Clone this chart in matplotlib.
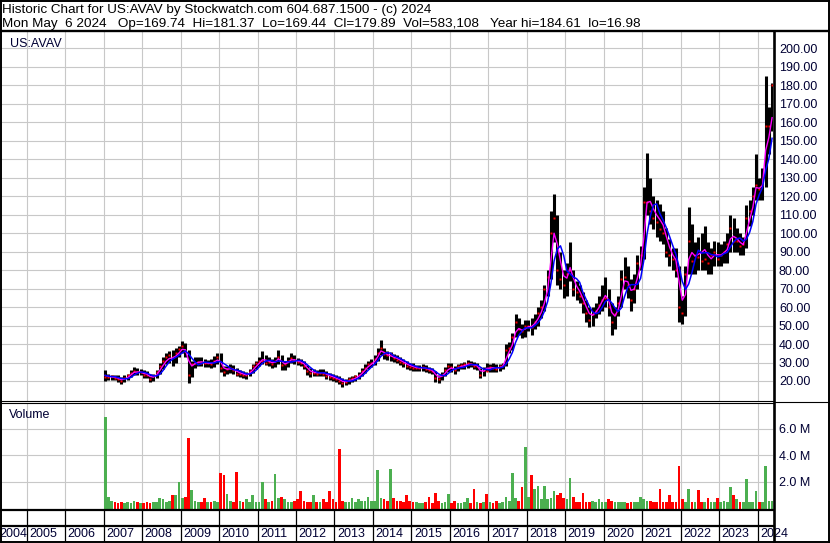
import matplotlib
matplotlib.use("Agg")
import matplotlib.pyplot as plt
import numpy as np
import pandas as pd

plt.rcParams['font.family'] = ['Liberation Sans', 'DejaVu Sans']

# monthly bars, Jan 2007 .. May 2024
months = pd.date_range("2007-01-01", "2024-05-01", freq="MS")

high = [
    26, 24, 23.5, 23.5, 23, 22, 23, 24, 26, 27.5, 27, 26.5,          # 2007
    26, 25.5, 24, 24, 26, 30, 33, 35, 36, 37, 38, 39,                # 2008
    41.5, 40.5, 37, 31, 33, 33, 33, 32, 31.5, 32, 33.5, 35,          # 2009
    35, 28, 28, 29, 28.5, 27, 26, 25.5, 25, 26.5, 29, 31,            # 2010
    33, 36, 34, 33, 32, 33, 37, 34, 31, 33, 35, 34,                  # 2011
    32.5, 32, 31, 28.5, 27, 26.5, 26, 26.5, 26.5, 25.5, 24.5, 24,    # 2012
    23, 22.5, 21.5, 21, 22, 22.5, 23.5, 25, 27, 29, 31, 32,          # 2013
    34, 38, 42, 38, 36, 35.5, 34.5, 34, 33, 32, 31, 30,              # 2014
    29.5, 28.5, 28.5, 29, 28.5, 27.5, 27, 25.5, 23.5, 25, 27.5, 29.5,  # 2015
    30, 28, 29, 30, 30.5, 31.5, 31, 30.5, 30, 27, 27.5, 30,          # 2016
    29, 29.5, 29, 29, 30, 40, 41, 46, 56, 54, 51, 53,                # 2017
    53, 54, 56, 60, 64, 72, 80, 112, 121, 110, 90, 80,               # 2018
    84, 95, 80, 74, 72, 68, 64, 60, 60, 62, 66, 72,                  # 2019
    76, 70, 62, 60, 66, 80, 87, 82, 75, 78, 88, 93,                  # 2020
    125, 143.5, 130, 120, 118, 116, 112, 103, 97, 92, 92, 82,        # 2021
    66, 82, 114, 105, 95, 98, 100, 104, 95, 92, 96, 95,              # 2022
    94, 96, 100, 110, 108, 103, 100, 98, 115, 118, 125, 143,         # 2023
    130, 135, 185, 168, 181.4,                                       # 2024
]
low = [
    20, 20.5, 20.5, 20.5, 19.5, 18.5, 19.5, 20.5, 22, 23.5, 23, 23,
    21.5, 21.5, 19.5, 20, 21.5, 24, 26.5, 29, 30, 28, 30, 33,
    35, 33, 19, 22, 27, 28, 28, 27.5, 27.5, 27, 27.5, 29,
    25, 22.5, 24, 24.5, 24, 22.5, 22, 21.5, 21, 22.5, 24.5, 26.5,
    28, 29, 28.5, 28, 27, 27.5, 29, 26, 26, 27.5, 29.5, 29,
    28.5, 28, 26.5, 23.5, 22, 22.5, 22.5, 22.5, 22.5, 21, 20.5, 20,
    19.5, 18.5, 17, 18, 18.5, 19.5, 20, 21, 22.5, 24.5, 26.5, 27.5,
    28.5, 31, 34, 32, 31.5, 31, 30.5, 30, 28.5, 27.5, 26.5, 26,
    25.5, 25.5, 25.5, 25.5, 25, 24.5, 24, 19.5, 19, 20.5, 22.5, 25,
    25, 24, 25.5, 26.5, 26.5, 27, 27.5, 26.5, 26, 21.5, 22.5, 25.5,
    25, 25, 25, 25.5, 26.5, 28, 35, 37, 44, 45, 43, 44,
    47, 45, 48, 50, 54, 58, 66, 75, 95, 72, 70, 65,
    66, 74, 66, 64, 62, 57, 52, 49, 50, 54, 56, 58,
    60, 55, 45, 48, 55, 60, 70, 65, 58, 62, 70, 80,
    86, 110, 105, 102, 98, 96, 94, 87, 82, 80, 76, 52,
    51, 55, 78, 78, 78, 80, 80, 80, 78, 78, 82, 82,
    82, 84, 84, 90, 90, 90, 88, 88, 92, 104, 110, 118,
    118, 118, 125, 143, 155,
]
close = [
    22, 22, 22.5, 21.5, 21, 20, 21.5, 23, 24.5, 25.5, 25, 25,
    23.5, 23, 21, 22.5, 25, 28, 31, 33, 34, 33, 35, 37.5,
    39, 36, 23, 29, 30, 30.5, 30, 29.5, 29.5, 29, 31, 33,
    27, 25, 26.5, 27, 26, 24, 24, 23, 23.5, 25.5, 28, 29.5,
    31, 31, 30, 30.5, 29, 31, 33, 28.5, 29, 31, 32.5, 31.5,
    30.5, 29.5, 28, 25.5, 24.5, 24.5, 24, 24.5, 24, 22.5, 22, 21.5,
    21, 20, 19, 19.5, 21, 21.5, 22.5, 23.5, 25.5, 27, 29, 29.5,
    32, 35, 38, 34.5, 34, 34.5, 32.5, 31.5, 30.5, 29.5, 28, 27.5,
    27, 27, 27, 27.5, 26.5, 26, 25.5, 21.5, 21, 23.5, 26, 28,
    27.5, 26, 28, 28.5, 29, 29.5, 29, 28, 28, 23.5, 26, 25.5,
    27.5, 27, 26.5, 28, 28.5, 37, 38, 44, 52, 48, 47, 50,
    50, 49, 52, 57, 60, 70, 76, 100, 108, 80, 75, 72,
    78, 80, 70, 68, 66, 62, 57, 53, 56, 58, 61, 64,
    65, 60, 52, 56, 62, 75, 76, 72, 64, 70, 84, 88,
    117, 117, 112, 108, 106, 102, 100, 90, 88, 86, 80, 60,
    57, 78, 96, 85, 88, 87, 85, 86, 84, 88, 90, 86,
    88, 90, 94, 103, 96, 96, 93, 94, 108, 112, 120, 126,
    124, 126, 158, 158, 179.9,
]
# volume in millions of shares
volume = [
    6.9, 0.9, 0.6, 0.5, 0.4, 0.5, 0.4, 0.5, 0.4, 0.6, 0.5, 0.4,
    0.4, 0.5, 0.4, 0.5, 0.5, 0.8, 0.7, 0.5, 0.6, 1.0, 1.0, 2.0,
    0.8, 0.9, 5.3, 1.4, 0.6, 0.5, 0.5, 0.8, 0.5, 0.5, 0.6, 0.5,
    2.7, 2.5, 1.1, 0.6, 0.5, 2.75, 0.6, 0.5, 0.7, 0.5, 1.0, 0.5,
    0.5, 2.0, 0.7, 0.5, 0.6, 2.6, 0.8, 0.9, 0.7, 0.5, 0.5, 0.6,
    0.7, 1.3, 0.6, 0.5, 0.5, 1.0, 0.5, 0.5, 0.7, 0.5, 1.3, 0.7,
    0.5, 4.5, 0.6, 0.5, 0.5, 0.8, 0.5, 0.7, 0.6, 0.6, 0.9, 0.6,
    0.6, 2.9, 0.8, 0.7, 0.6, 3.0, 0.8, 0.6, 0.6, 0.5, 1.0, 0.6,
    0.5, 0.5, 0.4, 0.4, 0.5, 0.9, 0.4, 1.2, 0.6, 0.4, 0.5, 1.1,
    0.4, 0.6, 0.4, 0.4, 0.5, 0.8, 0.4, 1.5, 0.5, 0.4, 0.5, 1.1,
    0.5, 0.4, 0.6, 0.4, 0.5, 0.9, 0.6, 2.7, 0.8, 0.6, 1.6, 4.6,
    0.9, 2.5, 1.5, 1.7, 0.7, 1.7, 0.7, 0.8, 1.3, 1.0, 1.2, 0.8,
    0.7, 2.3, 0.9, 0.5, 0.5, 1.2, 0.5, 0.5, 0.6, 0.5, 0.7, 0.5,
    0.5, 0.7, 0.6, 0.5, 0.5, 0.5, 0.5, 0.4, 0.5, 0.5, 0.5, 0.9,
    0.7, 0.6, 0.6, 0.5, 0.5, 1.5, 0.5, 0.5, 1.0, 0.5, 0.5, 3.2,
    0.7, 0.5, 1.5, 0.5, 0.5, 1.4, 0.5, 0.5, 0.8, 0.5, 0.5, 0.8,
    0.5, 0.6, 0.5, 1.6, 1.0, 0.7, 0.5, 0.5, 2.2, 0.5, 0.5, 1.3,
    0.5, 0.5, 3.2, 0.6, 0.6,
]

grid_years = list(range(2005, 2025))
label_years = list(range(2004, 2025))
price_ticks = list(range(20, 201, 10))
vol_ticks = [2e6, 4e6, 6e6]
vol_labels = ["2.0 M", "4.0 M", "6.0 M"]

title1 = "Historic Chart for US:AVAV by Stockwatch.com 604.687.1500 - (c) 2024"
title2 = ("Mon May  6 2024   Op=169.74  Hi=181.37  Lo=169.44  Cl=179.89  "
          "Vol=583,108   Year hi=184.61  lo=16.98")

assert len(high) == len(low) == len(close) == len(volume) == len(months)

t = months.year + (months.month - 0.5) / 12.0
df = pd.DataFrame({"h": high, "l": low, "c": close, "v": volume}, index=t)
mid = (df.h + df.l) / 2
ma_short = mid.ewm(alpha=0.65, adjust=False).mean()   # fast average (magenta)
ma_long = mid.rolling(4, min_periods=1).mean()        # slow average (blue)
up = df.c.diff().fillna(1) >= 0
vcol = np.where(up, "#4caf50", "#ff0000")

W, H = 830, 543
fig = plt.figure(figsize=(W / 100, H / 100), dpi=100)
fig.patch.set_facecolor("white")


def box(x0, y0, x1, y1):
    return [x0 / W, 1 - y1 / H, (x1 - x0) / W, (y1 - y0) / H]


xlim = (2005 + (2 - 26.7) / 38.47, 2005 + (773 - 26.7) / 38.47)
tick_col = "#000033"
grid_col = "#c8c8c8"

# price panel
ax = fig.add_axes(box(2, 32, 773, 400.5))
ax.set_xlim(xlim)
ax.set_ylim(9.45, 208.8)
ax.set_axisbelow(True)
ax.set_xticks(grid_years)
ax.set_yticks(price_ticks)
ax.yaxis.tick_right()
ax.set_yticklabels([f"{v:.2f}" for v in price_ticks])
ax.grid(True, color=grid_col, lw=0.8)
ax.tick_params(length=0, labelbottom=False, pad=4.3, labelsize=9,
               labelcolor=tick_col)
for s in ax.spines.values():
    s.set_visible(False)
ax.vlines(df.index, df.l, df.h, color="black", lw=2.2, zorder=2)
ax.plot(df.index, df.c, ls="none", marker="s", ms=1.8, mec="none",
        color="red", zorder=3)
ax.plot(df.index, ma_short, color="#ff00ff", lw=1.0, zorder=4)
ax.plot(df.index, ma_long, color="#0000ff", lw=1.1, zorder=5)

# volume panel
av = fig.add_axes(box(2, 402.5, 773, 508.5))
av.set_xlim(xlim)
av.set_ylim(0, 7.98e6)
av.set_axisbelow(True)
av.set_xticks(grid_years)
av.set_yticks(vol_ticks)
av.yaxis.tick_right()
av.set_yticklabels(vol_labels)
av.grid(True, color=grid_col, lw=0.8)
av.tick_params(length=0, labelbottom=False, pad=4.3, labelsize=9,
               labelcolor=tick_col)
for s in av.spines.values():
    s.set_visible(False)
av.bar(df.index, df.v * 1e6, width=0.07, color=vcol, linewidth=0)

# bottom date rows
ab = fig.add_axes(box(2, 510, 773, 542))
ab.set_xlim(xlim)
ab.set_ylim(0, 1)
ab.axis("off")
ab.vlines(grid_years, 0, 1, color="black", lw=0.9)
for yr in label_years:
    xx = max(yr, xlim[0])
    off = 1.8 if yr > xlim[0] else -2.2
    ab.annotate(str(yr), (xx, 0.25), xytext=(off, 0), textcoords="offset points",
                ha="left", va="center", fontsize=9, color=tick_col,
                annotation_clip=False)

# frame lines, in pixel units
ov = fig.add_axes([0, 0, 1, 1], zorder=10)
ov.set_xlim(0, W)
ov.set_ylim(H, 0)
ov.axis("off")
ov.patch.set_alpha(0)
k = dict(color="black", solid_capstyle="butt")
ov.plot([0, W], [0.7, 0.7], lw=1.4, **k)
ov.plot([0, W], [542.3, 542.3], lw=1.4, **k)
ov.plot([0.7, 0.7], [0, H], lw=1.4, **k)
ov.plot([828.8, 828.8], [0, H], lw=1.4, **k)
ov.plot([0, W], [30.8, 30.8], lw=1.7, **k)
ov.plot([773.5, 773.5], [30, H], lw=1.9, **k)
ov.plot([0, 773.5], [400.6, 400.6], lw=0.8, **k)
ov.plot([0, 773.5], [402.6, 402.6], lw=0.8, **k)
ov.plot([773.5, W], [401.6, 401.6], lw=0.8, **k)
ov.plot([0, 773.5], [509.5, 509.5], lw=1.6, **k)
ov.plot([0, 773.5], [526.2, 526.2], lw=1.6, **k)

fig.text(1.5 / W, 1 - 13.3 / H, title1, fontsize=9.7, va="baseline", ha="left")
fig.text(1.5 / W, 1 - 27.3 / H, title2, fontsize=9.7, va="baseline", ha="left")
fig.text(10 / W, 1 - 46.7 / H, "US:AVAV", fontsize=9, va="baseline",
         ha="left", color=tick_col)
fig.text(9.3 / W, 1 - 418.3 / H, "Volume", fontsize=9, va="baseline",
         ha="left", color=tick_col)

fig.savefig("out.png", dpi=100)
